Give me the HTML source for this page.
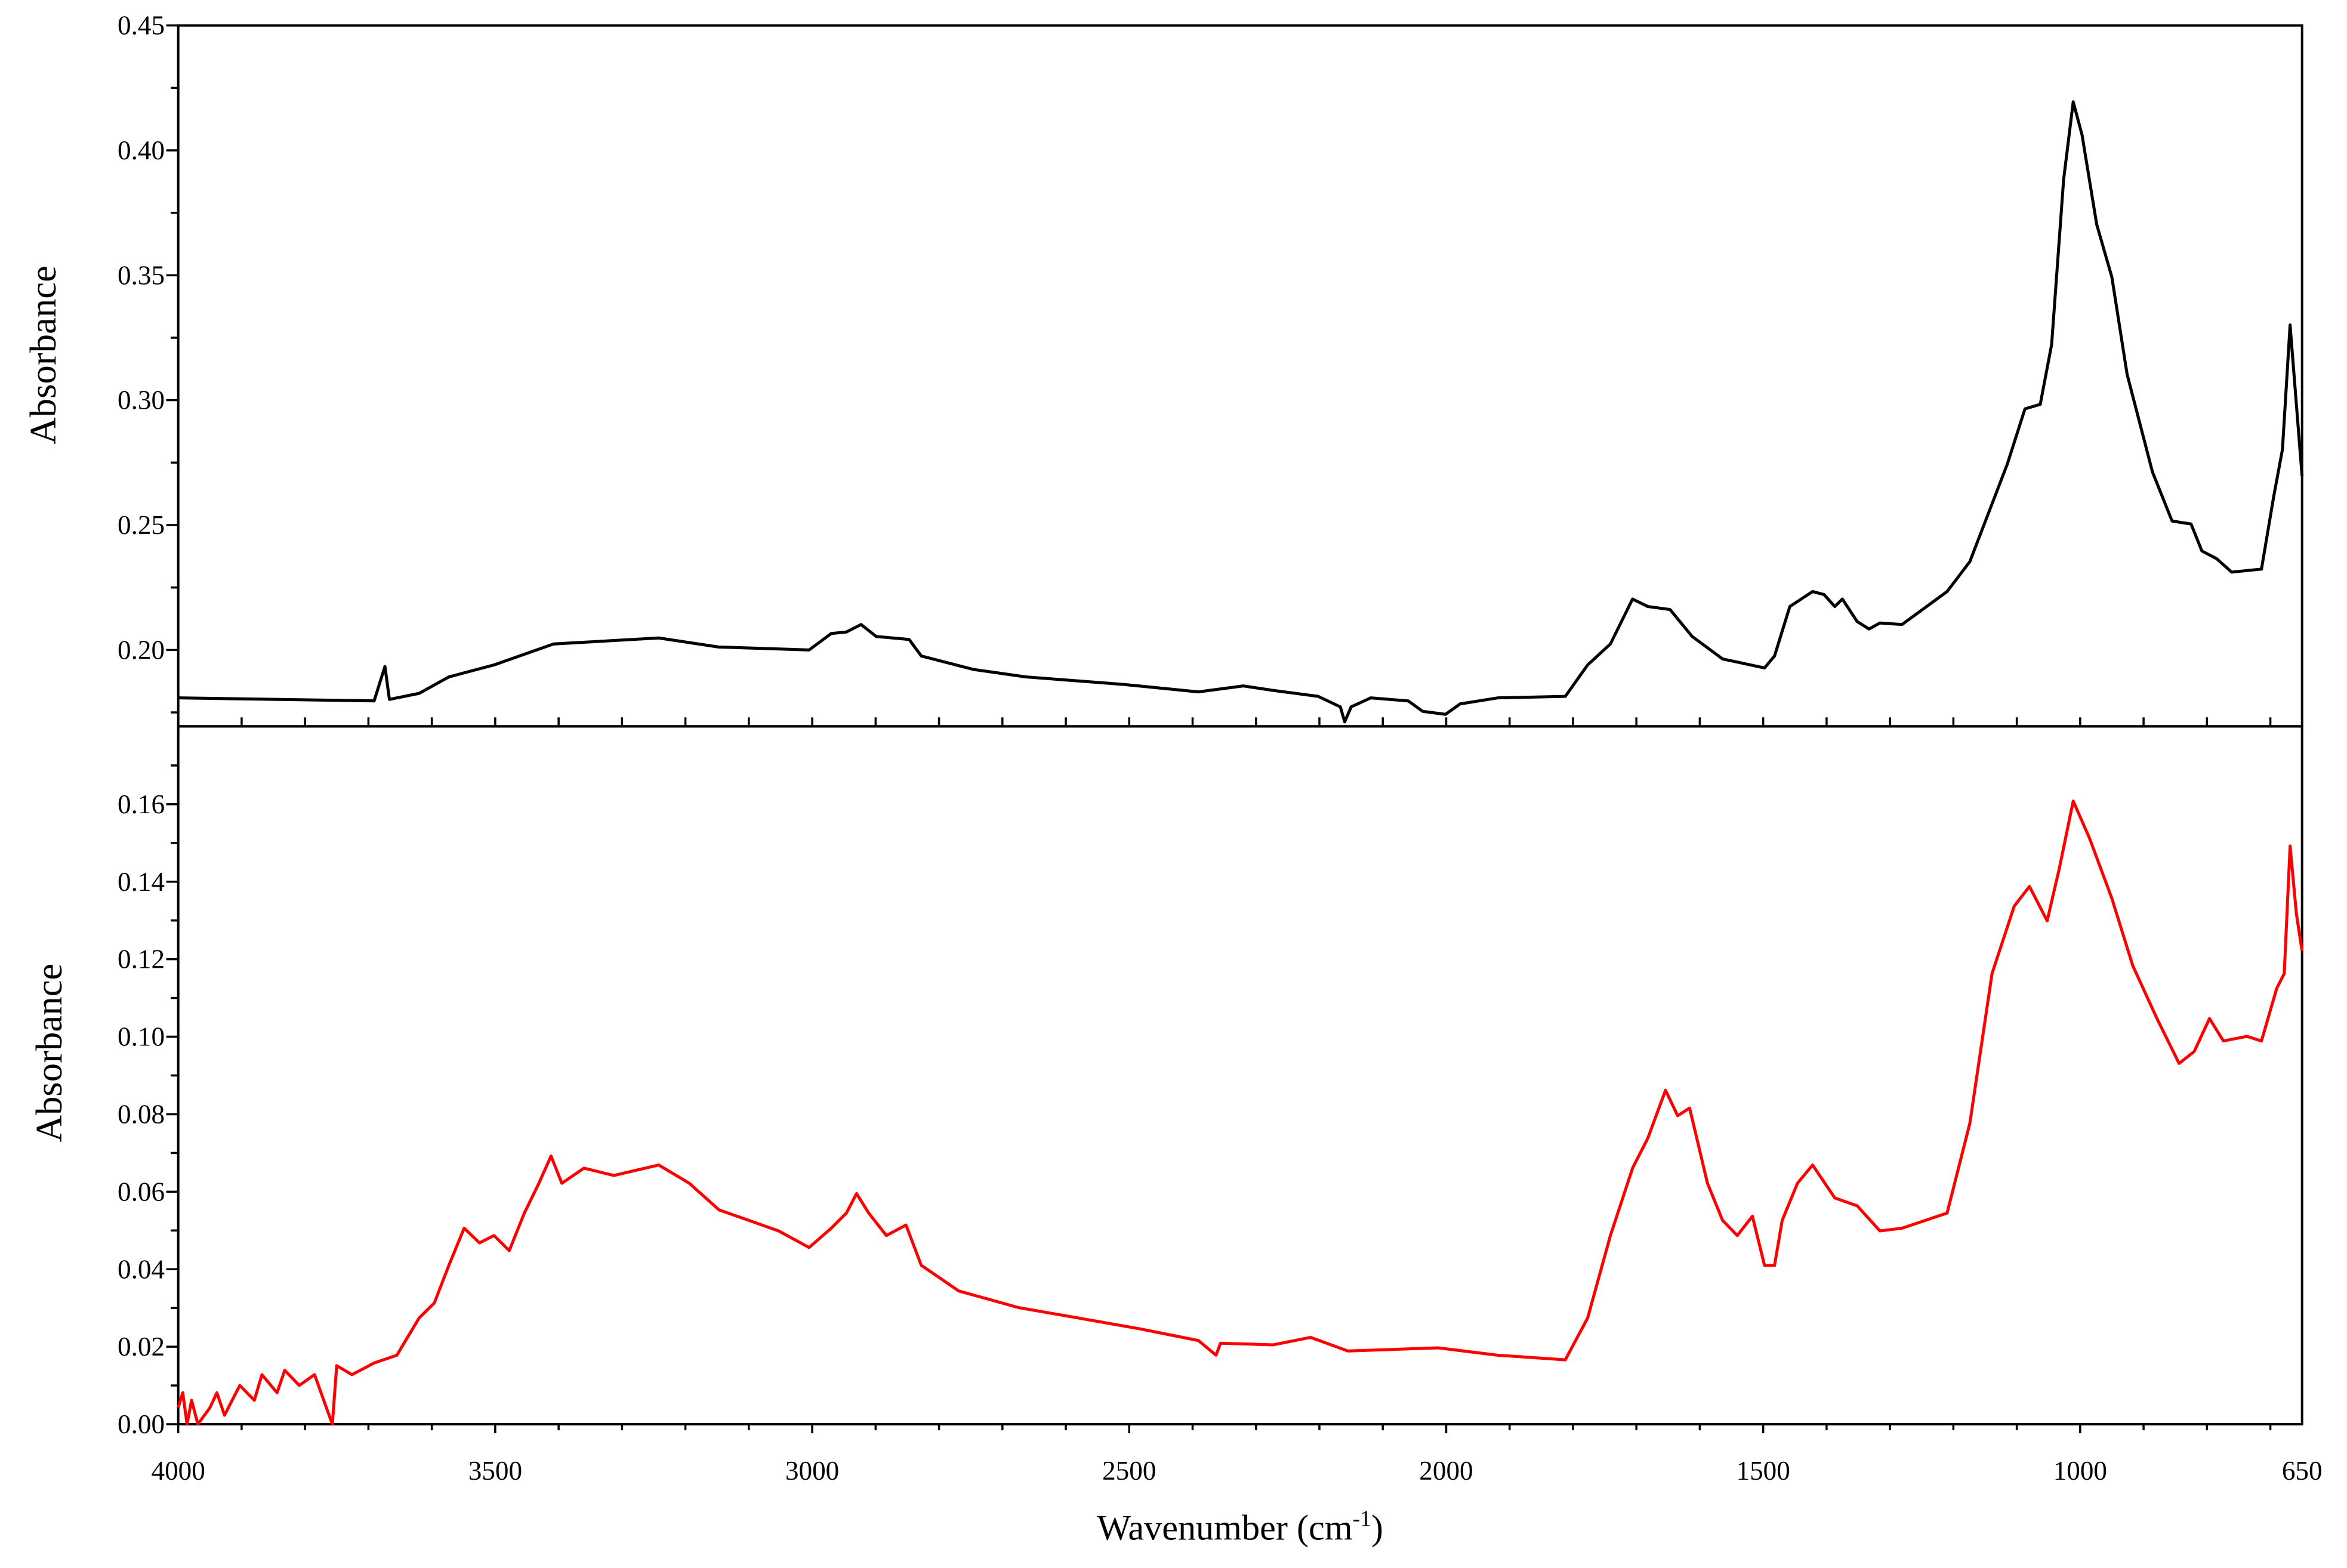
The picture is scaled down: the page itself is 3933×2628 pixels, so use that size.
<!DOCTYPE html>
<html><head><meta charset="utf-8"><style>
html,body{margin:0;padding:0;background:#fff;}
svg{display:block;}
text{font-family:"Liberation Serif",serif;fill:#000;}
</style></head><body>
<svg id="chart" width="3933" height="2628" viewBox="0 0 1567 1047" preserveAspectRatio="none" xmlns="http://www.w3.org/2000/svg">
<g id="axes"></g>
</svg>
<script>
const topWn=[4000,3691,3674,3667,3620,3573,3502,3408,3242,3148,3005,2970,2946,2923,2899,2847,2828,2746,2663,2509,2391,2320,2273,2202,2167,2160,2150,2119,2060,2037,2001,1978,1919,1812,1777,1741,1706,1682,1647,1612,1564,1498,1482,1458,1422,1404,1387,1375,1352,1333,1316,1281,1210,1174,1115,1087,1063,1045,1026,1011,997,974,950,926,886,855,825,808,785,761,714,695,681,669,659,650];
const topAbs=[0.1808,0.1796,0.1934,0.1802,0.1826,0.1892,0.1940,0.2024,0.2048,0.2012,0.2000,0.2066,0.2072,0.2102,0.2054,0.2042,0.1976,0.1922,0.1892,0.1862,0.1832,0.1856,0.1838,0.1814,0.1772,0.1712,0.1772,0.1808,0.1796,0.1754,0.1742,0.1784,0.1808,0.1814,0.1940,0.2024,0.2204,0.2174,0.2162,0.2054,0.1964,0.1928,0.1976,0.2174,0.2234,0.2222,0.2174,0.2204,0.2114,0.2084,0.2108,0.2102,0.2234,0.2354,0.2744,0.2965,0.2983,0.3223,0.3883,0.4194,0.4062,0.3703,0.3493,0.3103,0.2713,0.2516,0.2504,0.2396,0.2366,0.2312,0.2324,0.2612,0.2803,0.3301,0.2983,0.2696];
const botWn=[4000,3993,3986,3979,3969,3950,3939,3927,3903,3880,3868,3844,3832,3809,3785,3757,3750,3726,3691,3655,3620,3596,3573,3549,3525,3502,3478,3454,3431,3412,3395,3360,3313,3242,3194,3147,3100,3053,3005,2970,2946,2930,2911,2883,2852,2828,2769,2675,2580,2486,2391,2363,2356,2273,2214,2155,2013,1919,1812,1777,1741,1706,1682,1654,1635,1616,1588,1564,1541,1517,1498,1482,1470,1446,1422,1411,1387,1352,1316,1281,1210,1174,1139,1104,1080,1052,1033,1011,985,950,917,879,844,820,796,774,737,714,690,678,669,659,650];
const botAbs=[0.0043,0.0081,0,0.0062,0,0.0043,0.0081,0.0023,0.0100,0.0062,0.0128,0.0081,0.0139,0.0100,0.0128,0,0.0151,0.0128,0.0158,0.0178,0.0274,0.0313,0.0410,0.0506,0.0468,0.0487,0.0448,0.0545,0.0622,0.0692,0.0622,0.0661,0.0642,0.0669,0.0622,0.0553,0.0526,0.0499,0.0456,0.0506,0.0545,0.0595,0.0545,0.0487,0.0514,0.0410,0.0344,0.0301,0.0274,0.0247,0.0216,0.0178,0.0209,0.0205,0.0224,0.0189,0.0197,0.0178,0.0166,0.0274,0.0487,0.0661,0.0738,0.0862,0.0796,0.0816,0.0622,0.0526,0.0487,0.0537,0.0410,0.0410,0.0526,0.0622,0.0669,0.0642,0.0584,0.0564,0.0499,0.0506,0.0545,0.0777,0.1163,0.1337,0.1388,0.1299,0.1434,0.1608,0.1511,0.1357,0.1183,0.1047,0.0931,0.0962,0.1047,0.0989,0.1001,0.0989,0.1125,0.1163,0.1492,0.1318,0.1221];
const xTickLabels=[4000,3500,3000,2500,2000,1500,1000,650];
const topYTicks=[0.20,0.25,0.30,0.35,0.40,0.45];
const botYTicks=[0,0.02,0.04,0.06,0.08,0.10,0.12,0.14,0.16];

const L=119,R=1537,T1=17,B1=485,T2=485,B2=951;
function X(w){return L+(4000-w)*(R-L)/3350;}
function Y1(v){return 434-(v-0.20)*1668;}
function Y2(v){return 951-v*2587.5;}
const NS="http://www.w3.org/2000/svg";
const g=document.getElementById('axes');
function el(t,a,p){const e=document.createElementNS(NS,t);for(const k in a)e.setAttribute(k,a[k]);(p||g).appendChild(e);return e;}

let f=el('rect',{x:L,y:T1,width:R-L,height:B1-T1,fill:'none',stroke:'#000','stroke-width':1.6});


f=el('rect',{x:L,y:T2,width:R-L,height:B2-T2,fill:'none',stroke:'#000','stroke-width':1.6});



for(let w=4000;w>=700;w-=100){
  const x=X(w);
  const t=el('line',{x1:x,x2:x,y1:B1,y2:B1-6,stroke:'#000','stroke-width':1.4});
  
  
  const b=el('line',{x1:x,x2:x,y1:B2,y2:B2+(w%500===0?6:4),stroke:'#000','stroke-width':1.4});
  
  
}
xTickLabels.forEach(w=>{
  const t=el('text',{x:X(w),y:988,'font-size':18,'text-anchor':'middle'});
  t.textContent=w;
  
  
});
for(let v=0.175;v<=0.4501;v+=0.025){
  const major=Math.abs(v*20-Math.round(v*20))<1e-6;
  const y=Y1(v);
  const t=el('line',{x1:L,x2:L-(major?8:5),y1:y,y2:y,stroke:'#000','stroke-width':1.4});
  
  
}
topYTicks.forEach(v=>{
  const t=el('text',{x:L-9,y:Y1(v)+6,'font-size':18,'text-anchor':'end'});
  t.textContent=v.toFixed(2);
  
  
});
for(let i=0;i<=17;i++){
  const v=i*0.01;
  const y=Y2(v);
  const t=el('line',{x1:L,x2:L-(i%2===0?8:5),y1:y,y2:y,stroke:'#000','stroke-width':1.4});
  
  
}
botYTicks.forEach(v=>{
  const t=el('text',{x:L-9,y:Y2(v)+6,'font-size':18,'text-anchor':'end'});
  t.textContent=v.toFixed(2);
  
  
});
let tt=el('text',{x:0,y:0,'font-size':25,'text-anchor':'middle',transform:'translate(37,237) rotate(-90)'});
tt.textContent='Absorbance';


tt=el('text',{x:0,y:0,'font-size':25,'text-anchor':'middle',transform:'translate(41,703) rotate(-90)'});
tt.textContent='Absorbance';


tt=el('text',{x:828,y:1028,'font-size':24,'text-anchor':'middle'});
tt.innerHTML='Wavenumber (cm<tspan dy="-9" font-size="15">-1</tspan><tspan dy="9">)</tspan>';



let d=topWn.map((w,i)=>(i?'L':'M')+X(w).toFixed(1)+','+Y1(topAbs[i]).toFixed(1)).join('');
let p=el('path',{d:d,fill:'none',stroke:'#000','stroke-width':2,'stroke-linejoin':'round'});


d=botWn.map((w,i)=>(i?'L':'M')+X(w).toFixed(1)+','+Y2(botAbs[i]).toFixed(1)).join('');
p=el('path',{d:d,fill:'none',stroke:'#ff0000','stroke-width':2,'stroke-linejoin':'round'});


</script>
</body></html>
